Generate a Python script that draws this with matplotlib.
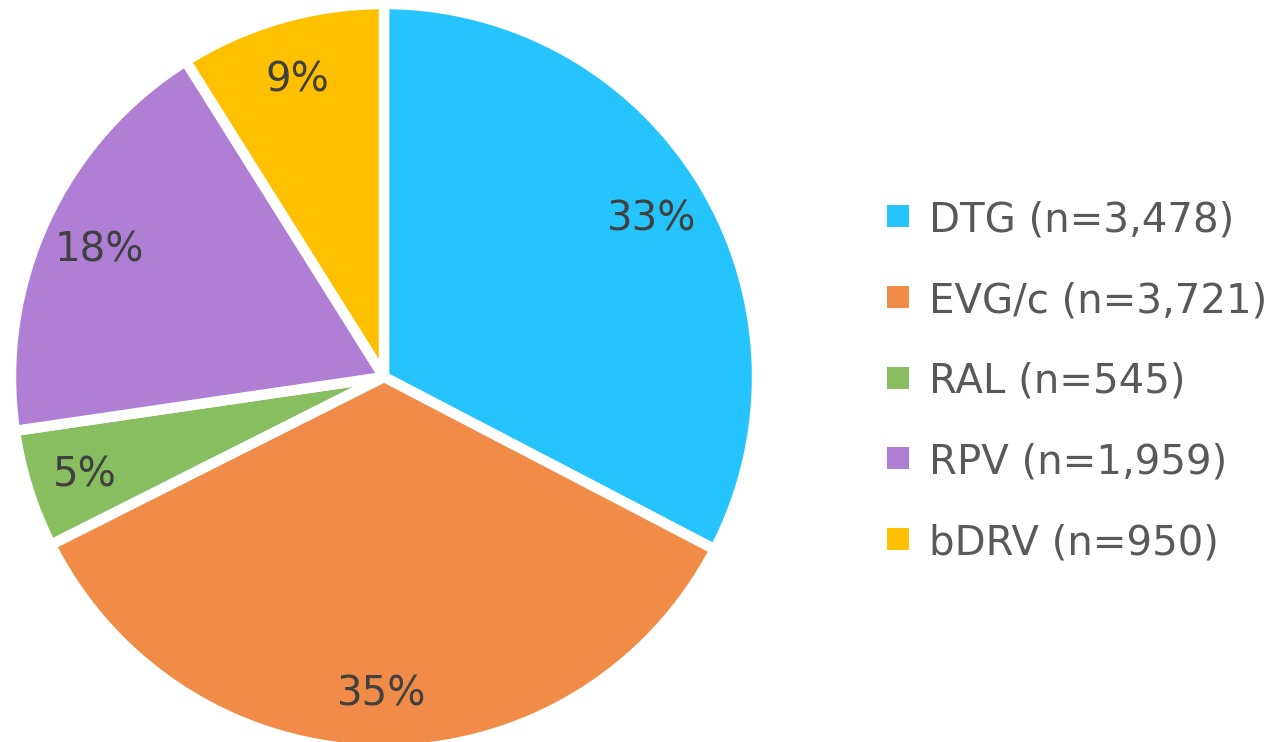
import matplotlib
matplotlib.use("Agg")
import matplotlib.pyplot as plt
from matplotlib.patches import Rectangle

labels = ["DTG (n=3,478)", "EVG/c (n=3,721)", "RAL (n=545)", "RPV (n=1,959)", "bDRV (n=950)"]
values = [3478, 3721, 545, 1959, 950]
colors = ["#25C4FD", "#F08C48", "#88BE5F", "#AF7FD6", "#FEC000"]

plt.rcParams['font.family'] = ['DejaVu Sans']

W, H = 1286, 742
fig = plt.figure(figsize=(W / 100, H / 100), dpi=100)
cx, cy, r = 384, 377, 373
ax = fig.add_axes([(cx - r) / W, (H - cy - r) / H, 2 * r / W, 2 * r / H])

wedges, texts, autotexts = ax.pie(
    values, colors=colors, startangle=90, counterclock=False, radius=1.0,
    autopct=lambda p: f"{p:.0f}%", pctdistance=0.84,
    wedgeprops=dict(edgecolor='white', linewidth=7.5, joinstyle='round'),
    textprops=dict(color='#404040', fontsize=29))
for t in autotexts:
    t.set_verticalalignment('center_baseline')
ax.set_xlim(-1, 1)
ax.set_ylim(-1, 1)
ax.set_aspect('equal')
ax.axis('off')

# legend drawn manually in pixel-based figure coordinates
row0, step = 216, 80.75
sq = 22
for i, (lab, col) in enumerate(zip(labels, colors)):
    yc = row0 + i * step
    fig.patches.append(Rectangle(((887) / W, (H - yc - sq / 2) / H), sq / W, sq / H,
                                 transform=fig.transFigure, facecolor=col, edgecolor='none'))
    fig.text(929 / W, (H - yc) / H, lab, va='center_baseline', ha='left',
             fontsize=29, color='#595959')

fig.savefig("out.png", dpi=100)
